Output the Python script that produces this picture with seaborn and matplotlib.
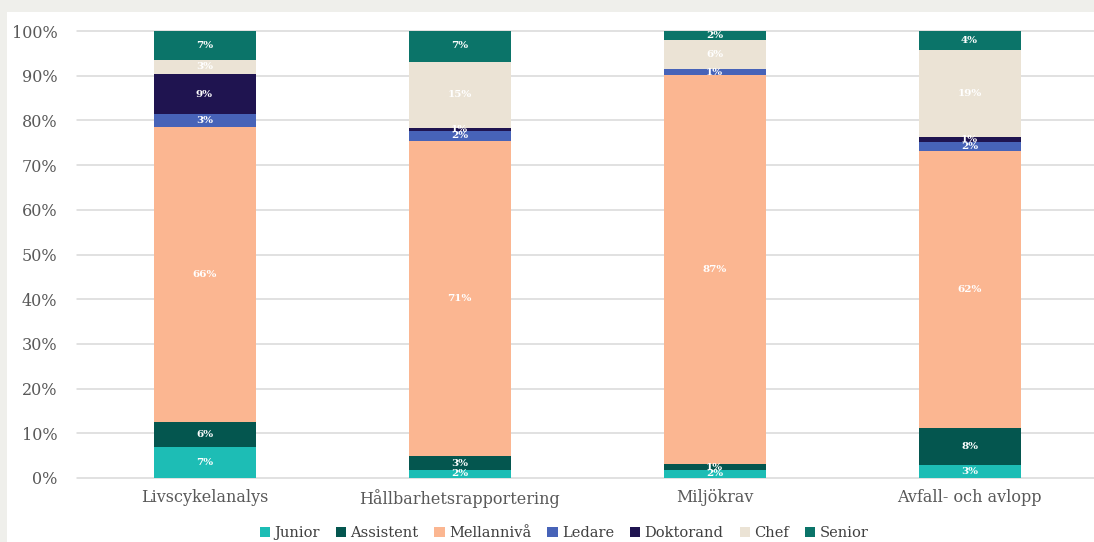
import matplotlib
matplotlib.use("Agg")
import matplotlib.pyplot as plt
from matplotlib.patches import Patch, Rectangle
import seaborn as sns
import numpy as np
import pandas as pd

categories = ["Livscykelanalys", "Hållbarhetsrapportering", "Miljökrav", "Avfall- och avlopp"]
series = ["Junior", "Assistent", "Mellannivå", "Ledare", "Doktorand", "Chef", "Senior"]
junior = [6.9, 1.8, 1.8, 2.9]
assistent = [5.6, 3.1, 1.3, 8.3]
mellanniva = [66.0, 70.6, 87.0, 62.0]
ledare = [2.9, 2.2, 1.3, 1.9]
doktorand = [9.0, 0.6, 0.0, 1.2]
chef = [3.1, 14.8, 6.5, 19.4]
senior = [6.6, 7.2, 2.1, 4.2]
values = [junior, assistent, mellanniva, ledare, doktorand, chef, senior]
colors = ["#1dbdb5", "#04564f", "#fbb691", "#4763b8", "#1f1450", "#ebe3d5", "#0b7469"]
yticks = [0, 10, 20, 30, 40, 50, 60, 70, 80, 90, 100]

sns.set_theme(style="white")
plt.rcParams["font.family"] = ["DejaVu Serif", "DejaVu Sans"]

W, H = 1094, 542
fig = plt.figure(figsize=(W / 100, H / 100), dpi=100, facecolor="#efefeb")
fig.patches.append(Rectangle((7 / W, 0), 1, (H - 12) / H, transform=fig.transFigure,
                             facecolor="white", edgecolor="none", zorder=-5))
ax = fig.add_axes([77 / W, 1 - 478 / H, 1020 / W, (478 - 31) / H])
ax.set_zorder(1)
ax.set_facecolor("none")

vals = np.array(values)
cum = np.cumsum(vals, axis=0)
# draw from top layer down so each stack segment shows
for i in range(len(series) - 1, -1, -1):
    df = pd.DataFrame({"cat": categories, "top": cum[i]})
    sns.barplot(data=df, x="cat", y="top", order=categories, color=colors[i],
                width=0.4, saturation=1, ax=ax, zorder=3, linewidth=0)

# labels
for i in range(len(series)):
    for j in range(len(categories)):
        v = vals[i, j]
        if v <= 0:
            continue
        c = cum[i, j] - v / 2
        ax.text(j, c, f"{int(round(v))}%", ha="center", va="center",
                color="white", fontsize=7.5, fontweight="bold", zorder=5)

ax.set_xlim(-0.5, 3.5)
ax.set_ylim(0, 100)
ax.set_yticks(yticks)
ax.set_yticklabels([f"{t}%" for t in yticks])
ax.yaxis.grid(True, color="#d9d9d9", linewidth=1.1, zorder=0)
ax.set_axisbelow(True)
for s in ax.spines.values():
    s.set_visible(False)
ax.set_xlabel("")
ax.set_ylabel("")
ax.tick_params(axis="y", length=0, pad=14, labelsize=11.5, labelcolor="#595959")
ax.tick_params(axis="x", length=0, pad=8, labelsize=11.5, labelcolor="#595959")
for gl in ax.get_ygridlines():
    gl.set_clip_on(False)

handles = [Patch(facecolor=c, edgecolor="none", label=s) for s, c in zip(series, colors)]
fig.legend(handles=handles, loc="center", bbox_to_anchor=(564 / W, 1 - 533 / H), ncol=7,
           frameon=False, fontsize=10.5, handlelength=0.7, handleheight=0.7,
           handletextpad=0.3, columnspacing=1.1, labelcolor="#404040")

fig.savefig("out.png", dpi=100, facecolor=fig.get_facecolor())
